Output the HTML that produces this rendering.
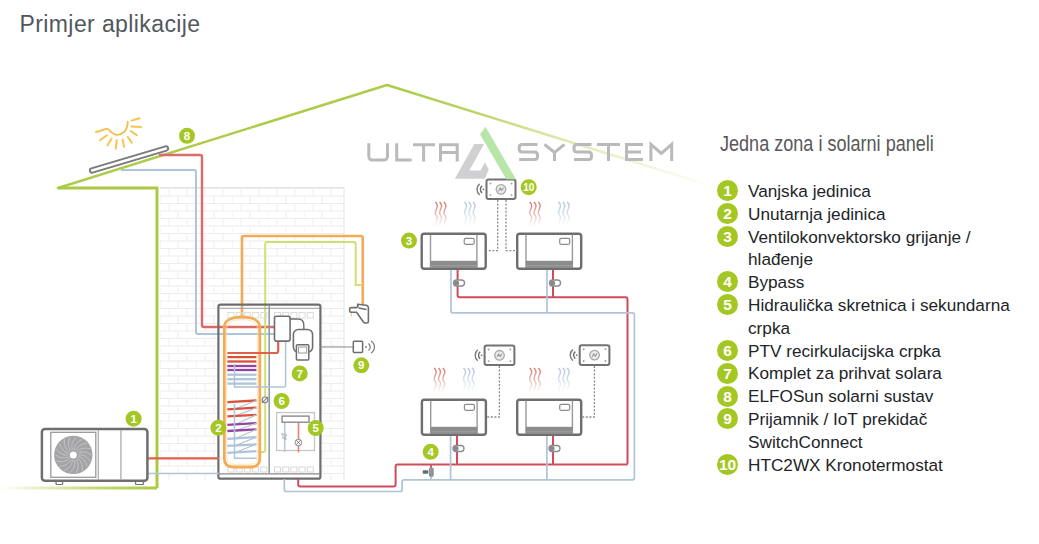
<!DOCTYPE html>
<html><head><meta charset="utf-8">
<style>
html,body{margin:0;padding:0;background:#fff;}
body{width:1039px;height:544px;position:relative;overflow:hidden;font-family:"Liberation Sans",sans-serif;}
.title{position:absolute;left:19.5px;top:11px;font-size:23px;letter-spacing:0.4px;color:#52575e;white-space:nowrap;}
.lh{position:absolute;left:720px;top:132px;font-size:21.5px;color:#58585a;white-space:nowrap;transform:scaleX(0.84);transform-origin:0 0;}
.li{position:absolute;left:748px;font-size:17.2px;color:#222428;white-space:nowrap;}
.b{position:absolute;left:717px;width:21px;height:21px;border-radius:50%;background:#a4c724;color:#fff;font-weight:bold;font-size:15.5px;line-height:22px;text-align:center;}
svg{position:absolute;left:0;top:0;}
</style></head><body>
<div class="title">Primjer aplikacije</div>
<svg width="1039" height="544" viewBox="0 0 1039 544">
<defs>
 <pattern id="brick" x="160" y="188" width="36" height="15" patternUnits="userSpaceOnUse">
  <path d="M0 0.5H36M0 8H36M9 0V8M27 0V8M0 8V15M18 8V15" stroke="#ededed" stroke-width="1" fill="none"/>
 </pattern>
 <linearGradient id="roofR" gradientUnits="userSpaceOnUse" x1="387" y1="85" x2="715" y2="187">
  <stop offset="0" stop-color="#a8ca3c" stop-opacity="0.95"/>
  <stop offset="0.25" stop-color="#acca48" stop-opacity="0.85"/>
  <stop offset="0.47" stop-color="#bcd460" stop-opacity="0.6"/>
  <stop offset="0.77" stop-color="#c8dc80" stop-opacity="0.3"/>
  <stop offset="1" stop-color="#c8dc80" stop-opacity="0"/>
 </linearGradient>
 <linearGradient id="eaveB" gradientUnits="userSpaceOnUse" x1="0" y1="488" x2="157" y2="488">
  <stop offset="0" stop-color="#acc944" stop-opacity="0"/>
  <stop offset="0.6" stop-color="#acc944" stop-opacity="0.7"/>
  <stop offset="1" stop-color="#acc944" stop-opacity="1"/>
 </linearGradient>
</defs>
<rect x="160" y="188" width="184" height="292" fill="url(#brick)"/>
<path d="M160 187.5H344V480" stroke="#e2e2e2" stroke-width="1" fill="none"/>
<path d="M58 188L387 85" stroke="#afcb4a" stroke-width="2.5" fill="none" stroke-linecap="round"/>
<path d="M387 85L715 187" stroke="url(#roofR)" stroke-width="2.4" fill="none"/>
<path d="M58 188H157V488" stroke="#acc944" stroke-width="3" fill="none"/>
<path d="M0 488H157" stroke="url(#eaveB)" stroke-width="3" fill="none"/>
<path d="M96 132L107 128.8" stroke="#f2c650" stroke-width="2" stroke-linecap="round"/>
<path d="M100 140.3L107 135.3" stroke="#f2c650" stroke-width="2" stroke-linecap="round"/>
<path d="M107.5 145.4L111.6 138.5" stroke="#f2c650" stroke-width="2" stroke-linecap="round"/>
<path d="M115.7 148.6L116.7 140.3" stroke="#f2c650" stroke-width="2" stroke-linecap="round"/>
<path d="M124 146.8L122.6 139.4" stroke="#f2c650" stroke-width="2" stroke-linecap="round"/>
<path d="M131.8 142.6L127.7 136.7" stroke="#f2c650" stroke-width="2" stroke-linecap="round"/>
<path d="M136.9 135.3L130.9 131.1" stroke="#f2c650" stroke-width="2" stroke-linecap="round"/>
<path d="M141 127L131.4 126.5" stroke="#f2c650" stroke-width="2" stroke-linecap="round"/>
<path d="M139.6 118.3L131.4 120.6" stroke="#f2c650" stroke-width="2" stroke-linecap="round"/>
<path d="M107.9 128.8Q116 139 124 132Q128 128 127.7 121" stroke="#f0c048" stroke-width="1.8" fill="none"/>
<rect x="218.4" y="304.7" width="102" height="174" fill="#fff"/>
<path d="M159 155H200Q202 155 202 157V325Q202 327 204 327H275" stroke="#dc6a66" stroke-width="2.4" fill="none"/>
<path d="M121 170H194Q196 170 196 172V332Q196 334 198 334H275" stroke="#aec4d8" stroke-width="2" fill="none"/>
<path d="M92 170.5L166 148.5" stroke="#7a7a7c" stroke-width="6.2" stroke-linecap="round"/>
<path d="M92 170.5L166 148.5" stroke="#fff" stroke-width="2.4" stroke-linecap="round"/>
<path d="M242 318V238Q242 236 244 236H360.5Q362.7 236 362.7 238V305" stroke="#f2ac58" stroke-width="2.6" fill="none"/>
<path d="M258 452H263.2Q265.2 452 265.2 450V244Q265.2 242 267 242H353.7Q355.7 242 355.7 244V285H361" stroke="#cfe070" stroke-width="2" fill="none"/>
<rect x="218.4" y="304.7" width="102" height="174" rx="2" fill="none" stroke="#6e6e70" stroke-width="2.2"/>
<path d="M219.5 308.3H319.3" stroke="#9a9a9c" stroke-width="1"/>
<path d="M269.2 306V473" stroke="#8e9aa4" stroke-width="1.6"/>
<path d="M219 473.8H320" stroke="#8a8a8c" stroke-width="1.2"/>
<rect x="228.0" y="312.5" width="6" height="5.5" fill="none" stroke="#dcdcdc" stroke-width="1"/>
<rect x="236.2" y="312.5" width="6" height="5.5" fill="none" stroke="#dcdcdc" stroke-width="1"/>
<rect x="244.4" y="312.5" width="6" height="5.5" fill="none" stroke="#dcdcdc" stroke-width="1"/>
<rect x="252.6" y="312.5" width="6" height="5.5" fill="none" stroke="#dcdcdc" stroke-width="1"/>
<rect x="260.8" y="312.5" width="6" height="5.5" fill="none" stroke="#dcdcdc" stroke-width="1"/>
<rect x="274.5" y="312.5" width="6" height="5.5" fill="none" stroke="#dcdcdc" stroke-width="1"/>
<rect x="282.7" y="312.5" width="6" height="5.5" fill="none" stroke="#dcdcdc" stroke-width="1"/>
<rect x="290.9" y="312.5" width="6" height="5.5" fill="none" stroke="#dcdcdc" stroke-width="1"/>
<rect x="299.1" y="312.5" width="6" height="5.5" fill="none" stroke="#dcdcdc" stroke-width="1"/>
<rect x="307.3" y="312.5" width="6" height="5.5" fill="none" stroke="#dcdcdc" stroke-width="1"/>
<rect x="228.0" y="467" width="6" height="5" fill="none" stroke="#d8d8d8" stroke-width="1"/>
<rect x="236.2" y="467" width="6" height="5" fill="none" stroke="#d8d8d8" stroke-width="1"/>
<rect x="244.4" y="467" width="6" height="5" fill="none" stroke="#d8d8d8" stroke-width="1"/>
<rect x="252.6" y="467" width="6" height="5" fill="none" stroke="#d8d8d8" stroke-width="1"/>
<rect x="260.8" y="467" width="6" height="5" fill="none" stroke="#d8d8d8" stroke-width="1"/>
<rect x="274.5" y="467" width="6" height="5" fill="none" stroke="#d8d8d8" stroke-width="1"/>
<rect x="282.7" y="467" width="6" height="5" fill="none" stroke="#d8d8d8" stroke-width="1"/>
<rect x="290.9" y="467" width="6" height="5" fill="none" stroke="#d8d8d8" stroke-width="1"/>
<rect x="299.1" y="467" width="6" height="5" fill="none" stroke="#d8d8d8" stroke-width="1"/>
<rect x="307.3" y="467" width="6" height="5" fill="none" stroke="#d8d8d8" stroke-width="1"/>
<path d="M224.3 327C224.3 320 232 317 242 317C252 317 259.8 320 259.8 327V458Q259.8 467 250.8 467H233.3Q224.3 467 224.3 458Z" fill="none" stroke="#f2ac58" stroke-width="2.8"/>
<path d="M226.8 328C226.8 322 234 319.6 242 319.6C250 319.6 257.3 322 257.3 328V457Q257.3 464.3 250 464.3H234Q226.8 464.3 226.8 457Z" fill="none" stroke="#f9dcae" stroke-width="0.8"/>
<path d="M227.4 357.1H256.4" stroke="#d9523a" stroke-width="2.3"/>
<path d="M227.4 361.5H256.4" stroke="#d9523a" stroke-width="2.3"/>
<path d="M227.4 366H256.4" stroke="#9444a0" stroke-width="2.3"/>
<path d="M227.4 370H256.4" stroke="#9444a0" stroke-width="2.3"/>
<path d="M227.4 374.7H256.4" stroke="#aec4d8" stroke-width="2.3"/>
<path d="M227.4 379.2H256.4" stroke="#aec4d8" stroke-width="2.3"/>
<path d="M227.4 383.6H256.4" stroke="#aec4d8" stroke-width="2.3"/>
<path d="M234.5 364V387H256.4" stroke="#aec4d8" stroke-width="1.5" fill="none"/>
<path d="M227.4 402.1L256.4 400.5" stroke="#d9523a" stroke-width="2.3"/>
<path d="M256.4 400.5L234.5 409.3" stroke="#b8c6d2" stroke-width="1.2"/>
<path d="M227.4 409.3L256.4 407.7" stroke="#d9523a" stroke-width="2.3"/>
<path d="M256.4 407.7L234.5 416.40000000000003" stroke="#b8c6d2" stroke-width="1.2"/>
<path d="M227.4 416.40000000000003L256.4 414.8" stroke="#d9523a" stroke-width="2.3"/>
<path d="M256.4 414.8L234.5 424.8" stroke="#b8c6d2" stroke-width="1.2"/>
<path d="M227.4 424.8L256.4 423.2" stroke="#9444a0" stroke-width="2.3"/>
<path d="M256.4 423.2L234.5 431.0" stroke="#b8c6d2" stroke-width="1.2"/>
<path d="M227.4 431.0L256.4 429.4" stroke="#9444a0" stroke-width="2.3"/>
<path d="M256.4 429.4L234.5 438.8" stroke="#b8c6d2" stroke-width="1.2"/>
<path d="M227.4 438.8L256.4 437.2" stroke="#aec4d8" stroke-width="2.3"/>
<path d="M256.4 437.2L234.5 445.90000000000003" stroke="#b8c6d2" stroke-width="1.2"/>
<path d="M227.4 445.90000000000003L256.4 444.3" stroke="#aec4d8" stroke-width="2.3"/>
<path d="M256.4 444.3L234.5 452.8" stroke="#b8c6d2" stroke-width="1.2"/>
<path d="M227.4 452.8L256.4 451.2" stroke="#aec4d8" stroke-width="2.3"/>
<path d="M234.5 404V458.3H256.4" stroke="#aec4d8" stroke-width="1.5" fill="none"/>
<path d="M278.2 341V351Q278.2 353 276.2 353H227.4" stroke="#e0604a" stroke-width="2.2" fill="none"/>
<path d="M285.6 341V385Q285.6 387 283.6 387H256" stroke="#aec4d8" stroke-width="1.5" fill="none"/>
<rect x="274.5" y="316.3" width="15.6" height="24.8" rx="2" fill="#fff" stroke="#6e6e70" stroke-width="1.6"/>
<path d="M290 319H298Q303.8 319 303.8 325V330" stroke="#6e6e70" stroke-width="1.4" fill="none"/>
<rect x="293.4" y="329.5" width="19.2" height="22.7" rx="5" fill="#fff" stroke="#6e6e70" stroke-width="1.6"/>
<rect x="296.4" y="344.8" width="12.4" height="15.2" rx="1" fill="#fff" stroke="#6e6e70" stroke-width="1.5"/>
<rect x="298.5" y="347" width="8.2" height="6" fill="#fff" stroke="#999" stroke-width="1"/>
<circle cx="265" cy="399.8" r="2.8" fill="#fff" stroke="#808082" stroke-width="1.2"/>
<path d="M262 402.8L268 396.8" stroke="#808082" stroke-width="1.1"/>
<rect x="276.6" y="412.6" width="37.9" height="37.9" fill="none" stroke="#c6c6c8" stroke-width="1.3"/>
<path d="M284.7 422V452" stroke="#b8c8d8" stroke-width="1.6"/>
<path d="M298.5 422V452.5" stroke="#e0887a" stroke-width="1.7"/>
<rect x="282.1" y="416.1" width="26.9" height="6.1" fill="#fff" stroke="#8a8a8c" stroke-width="1.4"/>
<circle cx="298.4" cy="442.5" r="3.2" fill="#fff" stroke="#a0a4a8" stroke-width="1.2"/>
<path d="M296.2 444.7L300.6 440.3M296.2 440.3L300.6 444.7" stroke="#777" stroke-width="0.9"/>
<path d="M281 434.5L283 433.5V439M284.5 435Q286 433 286.5 435L284.5 439H287" stroke="#9a9a9c" stroke-width="0.8" fill="none"/>
<path d="M298.2 479V484.6Q298.2 486.6 300.2 486.6H393.6Q395.6 486.6 395.6 484.6V466.6Q395.6 464.6 397.6 464.6H625.5Q627.5 464.8 627.5 462.8V299.2Q627.5 297.2 625.5 297.2H459.6Q457.6 297.2 457.6 295.2V268" stroke="#cf4c5c" stroke-width="2" fill="none"/>
<path d="M553 297.2V268" stroke="#cf4c5c" stroke-width="2"/>
<path d="M457 464.8V435M553 464.8V435" stroke="#cf4c5c" stroke-width="2"/>
<path d="M284.3 479V489.5Q284.3 491.5 286.3 491.5H400.1Q402.1 491.5 402.1 489.5V481.8Q402.1 479.8 404.1 479.8H632.4Q634.4 479.8 634.4 477.8V314.8Q634.4 312.8 632.4 312.8H453Q451 312.8 451 310.8V268" stroke="#aec4d8" stroke-width="1.7" fill="none"/>
<path d="M547 312.8V268M450.6 479.8V435M546.9 479.8V435" stroke="#aec4d8" stroke-width="1.7"/>
<path d="M147 458.3H219" stroke="#e0604a" stroke-width="2.2"/>
<path d="M147 473.5H219" stroke="#aec4d8" stroke-width="1.7"/>
<path d="M320.5 347H353" stroke="#8a8a8c" stroke-width="1.2"/>
<rect x="353.3" y="341.3" width="9.3" height="11.2" rx="1" fill="#fff" stroke="#6e6e70" stroke-width="1.5"/>
<circle cx="366" cy="347" r="0.9" fill="#777"/>
<path d="M368.5 343.5A4.5 4.5 0 0 1 368.5 350.5M371 341A7 7 0 0 1 371 353" stroke="#777" stroke-width="1.2" fill="none"/>
<path d="M349.6 309.2Q349.6 307.6 351.2 307.6H356.5L358 306.5L357.6 304.2L366.2 305.2Q368.4 305.6 368.4 308V321.4Q368.4 323 366.8 323H365Q364 323 363.4 322L356.6 312.3H351.2Q349.6 312.3 349.6 310.7Z" fill="#fff" stroke="#6e6e70" stroke-width="1.6" stroke-linejoin="round"/>
<path d="M358.5 308L366.5 309.5" stroke="#6e6e70" stroke-width="1.3"/>
<path d="M351.3 313V316.5" stroke="#f4c890" stroke-width="1.2"/>
<rect x="41.9" y="428.9" width="105.5" height="51.9" rx="3" fill="#fff" stroke="#6e6e70" stroke-width="2.5"/>
<rect x="50.8" y="432.3" width="45" height="45" fill="none" stroke="#9a9a9c" stroke-width="1.3"/>
<circle cx="73.3" cy="454.9" r="19.2" fill="#a4a4a6"/>
<path d="M78.3 454.9Q85.2 453.7 90.2 461.1" stroke="#c6c6c8" stroke-width="0.9" fill="none"/>
<path d="M78.0 456.6Q84.9 457.9 87.1 466.5" stroke="#c6c6c8" stroke-width="0.9" fill="none"/>
<path d="M77.1 458.1Q83.2 461.7 82.3 470.5" stroke="#c6c6c8" stroke-width="0.9" fill="none"/>
<path d="M75.8 459.2Q80.3 464.6 76.4 472.6" stroke="#c6c6c8" stroke-width="0.9" fill="none"/>
<path d="M74.2 459.8Q76.6 466.5 70.2 472.6" stroke="#c6c6c8" stroke-width="0.9" fill="none"/>
<path d="M72.4 459.8Q72.4 466.9 64.3 470.5" stroke="#c6c6c8" stroke-width="0.9" fill="none"/>
<path d="M70.8 459.2Q68.4 465.8 59.5 466.5" stroke="#c6c6c8" stroke-width="0.9" fill="none"/>
<path d="M69.5 458.1Q64.9 463.5 56.4 461.0" stroke="#c6c6c8" stroke-width="0.9" fill="none"/>
<path d="M68.6 456.6Q62.5 460.1 55.3 454.9" stroke="#c6c6c8" stroke-width="0.9" fill="none"/>
<path d="M68.3 454.9Q61.4 456.1 56.4 448.7" stroke="#c6c6c8" stroke-width="0.9" fill="none"/>
<path d="M68.6 453.2Q61.7 451.9 59.5 443.3" stroke="#c6c6c8" stroke-width="0.9" fill="none"/>
<path d="M69.5 451.7Q63.4 448.1 64.3 439.3" stroke="#c6c6c8" stroke-width="0.9" fill="none"/>
<path d="M70.8 450.6Q66.3 445.2 70.2 437.2" stroke="#c6c6c8" stroke-width="0.9" fill="none"/>
<path d="M72.4 450.0Q70.0 443.3 76.4 437.2" stroke="#c6c6c8" stroke-width="0.9" fill="none"/>
<path d="M74.2 450.0Q74.2 442.9 82.3 439.3" stroke="#c6c6c8" stroke-width="0.9" fill="none"/>
<path d="M75.8 450.6Q78.2 444.0 87.1 443.3" stroke="#c6c6c8" stroke-width="0.9" fill="none"/>
<path d="M77.1 451.7Q81.7 446.3 90.2 448.8" stroke="#c6c6c8" stroke-width="0.9" fill="none"/>
<path d="M78.0 453.2Q84.1 449.7 91.3 454.9" stroke="#c6c6c8" stroke-width="0.9" fill="none"/>
<circle cx="73.3" cy="454.9" r="3.5" fill="#fff"/>
<path d="M98.3 430V480M120.9 430V480" stroke="#a8a8aa" stroke-width="1.2"/>
<rect x="56" y="481.5" width="6.7" height="3" rx="1" fill="#fff" stroke="#6e6e70" stroke-width="1.2"/>
<rect x="135.5" y="481.5" width="8" height="3" rx="1" fill="#fff" stroke="#6e6e70" stroke-width="1.2"/>
<rect x="421.7" y="233.8" width="64" height="35" rx="2.5" fill="#fff" stroke="#6e6e70" stroke-width="2.4"/>
<path d="M430.5 234.8V267.8M476.9 234.8V267.8" stroke="#9a9a9c" stroke-width="1.4"/>
<rect x="430.3" y="260.8" width="47" height="7.3" fill="#8c8c8e"/>
<path d="M430.3 265.8H477.3" stroke="#a4a4a6" stroke-width="0.8"/>
<rect x="464.2" y="238.3" width="10" height="6" rx="1.5" fill="#fff" stroke="#8a8a8c" stroke-width="1.2"/>
<rect x="517.2" y="233.8" width="64" height="35" rx="2.5" fill="#fff" stroke="#6e6e70" stroke-width="2.4"/>
<path d="M526.0 234.8V267.8M572.4000000000001 234.8V267.8" stroke="#9a9a9c" stroke-width="1.4"/>
<rect x="525.8000000000001" y="260.8" width="47" height="7.3" fill="#8c8c8e"/>
<path d="M525.8000000000001 265.8H572.8000000000001" stroke="#a4a4a6" stroke-width="0.8"/>
<rect x="559.7" y="238.3" width="10" height="6" rx="1.5" fill="#fff" stroke="#8a8a8c" stroke-width="1.2"/>
<rect x="421.9" y="399.8" width="64" height="35" rx="2.5" fill="#fff" stroke="#6e6e70" stroke-width="2.4"/>
<path d="M430.7 400.8V433.8M477.09999999999997 400.8V433.8" stroke="#9a9a9c" stroke-width="1.4"/>
<rect x="430.5" y="426.8" width="47" height="7.3" fill="#8c8c8e"/>
<path d="M430.5 431.8H477.5" stroke="#a4a4a6" stroke-width="0.8"/>
<rect x="464.4" y="404.3" width="10" height="6" rx="1.5" fill="#fff" stroke="#8a8a8c" stroke-width="1.2"/>
<rect x="517.2" y="399.8" width="64" height="35" rx="2.5" fill="#fff" stroke="#6e6e70" stroke-width="2.4"/>
<path d="M526.0 400.8V433.8M572.4000000000001 400.8V433.8" stroke="#9a9a9c" stroke-width="1.4"/>
<rect x="525.8000000000001" y="426.8" width="47" height="7.3" fill="#8c8c8e"/>
<path d="M525.8000000000001 431.8H572.8000000000001" stroke="#a4a4a6" stroke-width="0.8"/>
<rect x="559.7" y="404.3" width="10" height="6" rx="1.5" fill="#fff" stroke="#8a8a8c" stroke-width="1.2"/>
<rect x="486.5" y="179.6" width="29" height="19.5" rx="2" fill="#fff" stroke="#727274" stroke-width="2"/>
<circle cx="501.0" cy="189.35" r="4.8" fill="#ececec" stroke="#a8a8aa" stroke-width="1.3"/>
<path d="M498.5 191.15L500.2 188.15L501.8 190.54999999999998L503.5 187.54999999999998" stroke="#9a9a9c" stroke-width="1.1" fill="none"/>
<circle cx="490.5" cy="183.6" r="0.9" fill="#9a9a9a"/>
<circle cx="511.5" cy="183.6" r="0.9" fill="#9a9a9a"/>
<circle cx="490.5" cy="195.1" r="0.9" fill="#9a9a9a"/>
<circle cx="511.5" cy="195.1" r="0.9" fill="#9a9a9a"/>
<circle cx="483.5" cy="189.35" r="0.9" fill="#777"/>
<path d="M482.1 185.85A4.5 4.5 0 0 0 482.1 192.85" stroke="#6a6a6c" stroke-width="1.4" fill="none"/>
<path d="M479.7 183.85A7 7 0 0 0 479.7 194.85" stroke="#7a7a7c" stroke-width="1.4" fill="none"/>
<rect x="484.6" y="345.5" width="29.8" height="19.6" rx="2" fill="#fff" stroke="#727274" stroke-width="2"/>
<circle cx="499.5" cy="355.3" r="4.8" fill="#ececec" stroke="#a8a8aa" stroke-width="1.3"/>
<path d="M497.0 357.1L498.7 354.1L500.3 356.5L502.0 353.5" stroke="#9a9a9c" stroke-width="1.1" fill="none"/>
<circle cx="488.6" cy="349.5" r="0.9" fill="#9a9a9a"/>
<circle cx="510.40000000000003" cy="349.5" r="0.9" fill="#9a9a9a"/>
<circle cx="488.6" cy="361.1" r="0.9" fill="#9a9a9a"/>
<circle cx="510.40000000000003" cy="361.1" r="0.9" fill="#9a9a9a"/>
<circle cx="481.6" cy="355.3" r="0.9" fill="#777"/>
<path d="M480.20000000000005 351.8A4.5 4.5 0 0 0 480.20000000000005 358.8" stroke="#6a6a6c" stroke-width="1.4" fill="none"/>
<path d="M477.8 349.8A7 7 0 0 0 477.8 360.8" stroke="#7a7a7c" stroke-width="1.4" fill="none"/>
<rect x="579.7" y="345.2" width="29.7" height="19.8" rx="2" fill="#fff" stroke="#727274" stroke-width="2"/>
<circle cx="594.5500000000001" cy="355.09999999999997" r="4.8" fill="#ececec" stroke="#a8a8aa" stroke-width="1.3"/>
<path d="M592.0500000000001 356.9L593.7500000000001 353.9L595.35 356.29999999999995L597.0500000000001 353.29999999999995" stroke="#9a9a9c" stroke-width="1.1" fill="none"/>
<circle cx="583.7" cy="349.2" r="0.9" fill="#9a9a9a"/>
<circle cx="605.4000000000001" cy="349.2" r="0.9" fill="#9a9a9a"/>
<circle cx="583.7" cy="361.0" r="0.9" fill="#9a9a9a"/>
<circle cx="605.4000000000001" cy="361.0" r="0.9" fill="#9a9a9a"/>
<circle cx="576.7" cy="355.09999999999997" r="0.9" fill="#777"/>
<path d="M575.3000000000001 351.59999999999997A4.5 4.5 0 0 0 575.3000000000001 358.59999999999997" stroke="#6a6a6c" stroke-width="1.4" fill="none"/>
<path d="M572.9000000000001 349.59999999999997A7 7 0 0 0 572.9000000000001 360.59999999999997" stroke="#7a7a7c" stroke-width="1.4" fill="none"/>
<path d="M497.7 200V250.7H486.5" stroke="#8a8a8c" stroke-width="1.3" stroke-dasharray="2 1.6" fill="none"/>
<path d="M506 200V250.7H517" stroke="#8a8a8c" stroke-width="1.3" stroke-dasharray="2 1.6" fill="none"/>
<path d="M499.4 366V417H486.5" stroke="#8a8a8c" stroke-width="1.3" stroke-dasharray="2 1.6" fill="none"/>
<path d="M594.4 366V417H581.5" stroke="#8a8a8c" stroke-width="1.3" stroke-dasharray="2 1.6" fill="none"/>
<rect x="453.5" y="280" width="11" height="6" rx="3" fill="#fff" stroke="#8a8a8c" stroke-width="1.3"/>
<circle cx="456.5" cy="283" r="2.6" fill="#8a8a8c"/>
<rect x="549.5" y="280" width="11" height="6" rx="3" fill="#fff" stroke="#8a8a8c" stroke-width="1.3"/>
<circle cx="552.5" cy="283" r="2.6" fill="#8a8a8c"/>
<rect x="453" y="445.5" width="11" height="6" rx="3" fill="#fff" stroke="#8a8a8c" stroke-width="1.3"/>
<circle cx="456" cy="448.5" r="2.6" fill="#8a8a8c"/>
<rect x="549" y="445.5" width="11" height="6" rx="3" fill="#fff" stroke="#8a8a8c" stroke-width="1.3"/>
<circle cx="552" cy="448.5" r="2.6" fill="#8a8a8c"/>
<path d="M431 465V469" stroke="#cf4c5c" stroke-width="1.8"/>
<rect x="428.8" y="467.5" width="5" height="9.5" rx="2" fill="#8e9496"/>
<rect x="422.7" y="470.2" width="5.5" height="3.6" rx="1" fill="#6a6a6c"/>
<path d="M431 476.5V479" stroke="#a8b8c4" stroke-width="1.5"/>
<linearGradient id="wg435202" gradientUnits="userSpaceOnUse" x1="0" y1="202" x2="0" y2="226"><stop offset="0" stop-color="#cf6658" stop-opacity="0.85"/><stop offset="0.6" stop-color="#cf6658" stop-opacity="0.35"/><stop offset="1" stop-color="#cf6658" stop-opacity="0.02"/></linearGradient>
<path d="M435.3 202q3 3 1.5 6t-1.5 6q3 3 1.5 6t-1.5 6" stroke="url(#wg435202)" stroke-width="1.5" fill="none"/>
<path d="M439.6 202q3 3 1.5 6t-1.5 6q3 3 1.5 6t-1.5 6" stroke="url(#wg435202)" stroke-width="1.5" fill="none"/>
<path d="M443.90000000000003 202q3 3 1.5 6t-1.5 6q3 3 1.5 6t-1.5 6" stroke="url(#wg435202)" stroke-width="1.5" fill="none"/>
<linearGradient id="wg464202" gradientUnits="userSpaceOnUse" x1="0" y1="202" x2="0" y2="226"><stop offset="0" stop-color="#a4bcdc" stop-opacity="0.85"/><stop offset="0.6" stop-color="#a4bcdc" stop-opacity="0.35"/><stop offset="1" stop-color="#a4bcdc" stop-opacity="0.02"/></linearGradient>
<path d="M464.5 202q3 3 1.5 6t-1.5 6q3 3 1.5 6t-1.5 6" stroke="url(#wg464202)" stroke-width="1.5" fill="none"/>
<path d="M468.8 202q3 3 1.5 6t-1.5 6q3 3 1.5 6t-1.5 6" stroke="url(#wg464202)" stroke-width="1.5" fill="none"/>
<path d="M473.1 202q3 3 1.5 6t-1.5 6q3 3 1.5 6t-1.5 6" stroke="url(#wg464202)" stroke-width="1.5" fill="none"/>
<linearGradient id="wg529202" gradientUnits="userSpaceOnUse" x1="0" y1="202" x2="0" y2="226"><stop offset="0" stop-color="#cf6658" stop-opacity="0.85"/><stop offset="0.6" stop-color="#cf6658" stop-opacity="0.35"/><stop offset="1" stop-color="#cf6658" stop-opacity="0.02"/></linearGradient>
<path d="M529.7 202q3 3 1.5 6t-1.5 6q3 3 1.5 6t-1.5 6" stroke="url(#wg529202)" stroke-width="1.5" fill="none"/>
<path d="M534.0 202q3 3 1.5 6t-1.5 6q3 3 1.5 6t-1.5 6" stroke="url(#wg529202)" stroke-width="1.5" fill="none"/>
<path d="M538.3000000000001 202q3 3 1.5 6t-1.5 6q3 3 1.5 6t-1.5 6" stroke="url(#wg529202)" stroke-width="1.5" fill="none"/>
<linearGradient id="wg558202" gradientUnits="userSpaceOnUse" x1="0" y1="202" x2="0" y2="226"><stop offset="0" stop-color="#a4bcdc" stop-opacity="0.85"/><stop offset="0.6" stop-color="#a4bcdc" stop-opacity="0.35"/><stop offset="1" stop-color="#a4bcdc" stop-opacity="0.02"/></linearGradient>
<path d="M558.5 202q3 3 1.5 6t-1.5 6q3 3 1.5 6t-1.5 6" stroke="url(#wg558202)" stroke-width="1.5" fill="none"/>
<path d="M562.8 202q3 3 1.5 6t-1.5 6q3 3 1.5 6t-1.5 6" stroke="url(#wg558202)" stroke-width="1.5" fill="none"/>
<path d="M567.1 202q3 3 1.5 6t-1.5 6q3 3 1.5 6t-1.5 6" stroke="url(#wg558202)" stroke-width="1.5" fill="none"/>
<linearGradient id="wg434368" gradientUnits="userSpaceOnUse" x1="0" y1="368" x2="0" y2="392"><stop offset="0" stop-color="#cf6658" stop-opacity="0.85"/><stop offset="0.6" stop-color="#cf6658" stop-opacity="0.35"/><stop offset="1" stop-color="#cf6658" stop-opacity="0.02"/></linearGradient>
<path d="M434.2 368q3 3 1.5 6t-1.5 6q3 3 1.5 6t-1.5 6" stroke="url(#wg434368)" stroke-width="1.5" fill="none"/>
<path d="M438.5 368q3 3 1.5 6t-1.5 6q3 3 1.5 6t-1.5 6" stroke="url(#wg434368)" stroke-width="1.5" fill="none"/>
<path d="M442.8 368q3 3 1.5 6t-1.5 6q3 3 1.5 6t-1.5 6" stroke="url(#wg434368)" stroke-width="1.5" fill="none"/>
<linearGradient id="wg463368" gradientUnits="userSpaceOnUse" x1="0" y1="368" x2="0" y2="392"><stop offset="0" stop-color="#a4bcdc" stop-opacity="0.85"/><stop offset="0.6" stop-color="#a4bcdc" stop-opacity="0.35"/><stop offset="1" stop-color="#a4bcdc" stop-opacity="0.02"/></linearGradient>
<path d="M463.5 368q3 3 1.5 6t-1.5 6q3 3 1.5 6t-1.5 6" stroke="url(#wg463368)" stroke-width="1.5" fill="none"/>
<path d="M467.8 368q3 3 1.5 6t-1.5 6q3 3 1.5 6t-1.5 6" stroke="url(#wg463368)" stroke-width="1.5" fill="none"/>
<path d="M472.1 368q3 3 1.5 6t-1.5 6q3 3 1.5 6t-1.5 6" stroke="url(#wg463368)" stroke-width="1.5" fill="none"/>
<linearGradient id="wg529368" gradientUnits="userSpaceOnUse" x1="0" y1="368" x2="0" y2="392"><stop offset="0" stop-color="#cf6658" stop-opacity="0.85"/><stop offset="0.6" stop-color="#cf6658" stop-opacity="0.35"/><stop offset="1" stop-color="#cf6658" stop-opacity="0.02"/></linearGradient>
<path d="M529.7 368q3 3 1.5 6t-1.5 6q3 3 1.5 6t-1.5 6" stroke="url(#wg529368)" stroke-width="1.5" fill="none"/>
<path d="M534.0 368q3 3 1.5 6t-1.5 6q3 3 1.5 6t-1.5 6" stroke="url(#wg529368)" stroke-width="1.5" fill="none"/>
<path d="M538.3000000000001 368q3 3 1.5 6t-1.5 6q3 3 1.5 6t-1.5 6" stroke="url(#wg529368)" stroke-width="1.5" fill="none"/>
<linearGradient id="wg558368" gradientUnits="userSpaceOnUse" x1="0" y1="368" x2="0" y2="392"><stop offset="0" stop-color="#a4bcdc" stop-opacity="0.85"/><stop offset="0.6" stop-color="#a4bcdc" stop-opacity="0.35"/><stop offset="1" stop-color="#a4bcdc" stop-opacity="0.02"/></linearGradient>
<path d="M558.5 368q3 3 1.5 6t-1.5 6q3 3 1.5 6t-1.5 6" stroke="url(#wg558368)" stroke-width="1.5" fill="none"/>
<path d="M562.8 368q3 3 1.5 6t-1.5 6q3 3 1.5 6t-1.5 6" stroke="url(#wg558368)" stroke-width="1.5" fill="none"/>
<path d="M567.1 368q3 3 1.5 6t-1.5 6q3 3 1.5 6t-1.5 6" stroke="url(#wg558368)" stroke-width="1.5" fill="none"/>
<path d="M368.8 143.3V156Q368.8 160.1 372.8 160.1H383.5Q387.5 160.1 387.5 156V143.3" stroke="#bababc" stroke-width="3" fill="none" stroke-linejoin="miter"/>
<path d="M396.7 143.3V160.1H411.6" stroke="#bababc" stroke-width="3" fill="none" stroke-linejoin="miter"/>
<path d="M413 144.8H435.1M423.6 144.8V161.6" stroke="#bababc" stroke-width="3" fill="none" stroke-linejoin="miter"/>
<path d="M440.5 161.6V144.8H457.2V161.6M440.5 152.4H457.2" stroke="#bababc" stroke-width="3" fill="none" stroke-linejoin="miter"/>
<path d="M537.5 144.4H522.2Q519.2 144.4 519.2 147.4V148.9Q519.2 151.9 522.2 151.9H534.5Q537.5 151.9 537.5 154.9V156.4Q537.5 159.4 534.5 159.4H519.2" stroke="#bababc" stroke-width="3" fill="none" stroke-linejoin="miter"/>
<path d="M544.5 144.4L554.5 152.5L564.5 144.4M554.5 152.5V160.9" stroke="#bababc" stroke-width="3" fill="none" stroke-linejoin="miter"/>
<path d="M591.5 144.4H577Q574 144.4 574 147.4V148.9Q574 151.9 577 151.9H588.5Q591.5 151.9 591.5 154.9V156.4Q591.5 159.4 588.5 159.4H574" stroke="#bababc" stroke-width="3" fill="none" stroke-linejoin="miter"/>
<path d="M597 144.4H620M608.5 144.4V160.9" stroke="#bababc" stroke-width="3" fill="none" stroke-linejoin="miter"/>
<path d="M643 144.4H626.5V159.4H643M626.5 151.9H641" stroke="#bababc" stroke-width="3" fill="none" stroke-linejoin="miter"/>
<path d="M650.9 160.9V144.4L661.3 153.5L671.7 144.4V160.9" stroke="#bababc" stroke-width="3" fill="none" stroke-linejoin="miter"/>
<polygon points="480,134.3 485.5,126.8 516,179.3 506.3,179.3" fill="#b8e6a8"/>
<polygon points="454.9,178.8 474.3,144.1 484,144.1 469.4,170.4 480.7,170.4 484.8,162.3 488.8,169.6 484.8,178.8" fill="#d0d0d2"/>
<circle cx="187" cy="135.8" r="8" fill="#a4c724"/>
<text x="187" y="139.9" text-anchor="middle" font-family="Liberation Sans" font-weight="bold" font-size="11.5" fill="#fff">8</text>
<circle cx="133.6" cy="418.7" r="8" fill="#a4c724"/>
<text x="133.6" y="422.8" text-anchor="middle" font-family="Liberation Sans" font-weight="bold" font-size="11.5" fill="#fff">1</text>
<circle cx="218.4" cy="427.8" r="8" fill="#a4c724"/>
<text x="218.4" y="431.9" text-anchor="middle" font-family="Liberation Sans" font-weight="bold" font-size="11.5" fill="#fff">2</text>
<circle cx="409" cy="240.6" r="8" fill="#a4c724"/>
<text x="409" y="244.7" text-anchor="middle" font-family="Liberation Sans" font-weight="bold" font-size="11.5" fill="#fff">3</text>
<circle cx="430.7" cy="451.8" r="8" fill="#a4c724"/>
<text x="430.7" y="455.9" text-anchor="middle" font-family="Liberation Sans" font-weight="bold" font-size="11.5" fill="#fff">4</text>
<circle cx="315.7" cy="428" r="8" fill="#a4c724"/>
<text x="315.7" y="432.1" text-anchor="middle" font-family="Liberation Sans" font-weight="bold" font-size="11.5" fill="#fff">5</text>
<circle cx="281.6" cy="401" r="8" fill="#a4c724"/>
<text x="281.6" y="405.1" text-anchor="middle" font-family="Liberation Sans" font-weight="bold" font-size="11.5" fill="#fff">6</text>
<circle cx="299.7" cy="373.4" r="8" fill="#a4c724"/>
<text x="299.7" y="377.5" text-anchor="middle" font-family="Liberation Sans" font-weight="bold" font-size="11.5" fill="#fff">7</text>
<circle cx="361.3" cy="365.3" r="8" fill="#a4c724"/>
<text x="361.3" y="369.4" text-anchor="middle" font-family="Liberation Sans" font-weight="bold" font-size="11.5" fill="#fff">9</text>
<circle cx="528.7" cy="187.2" r="8" fill="#a4c724"/>
<text x="528.7" y="190.8" text-anchor="middle" font-family="Liberation Sans" font-weight="bold" font-size="10" fill="#fff">10</text>
</svg>
<div class="lh">Jedna zona i solarni paneli</div>
<div class="b" style="top:180.0px">1</div>
<div class="li" style="top:180.8px">Vanjska jedinica</div>
<div class="b" style="top:202.8px">2</div>
<div class="li" style="top:203.6px">Unutarnja jedinica</div>
<div class="b" style="top:225.7px">3</div>
<div class="li" style="top:226.5px">Ventilokonvektorsko grijanje /</div>
<div class="li" style="top:249.3px">hlađenje</div>
<div class="b" style="top:271.3px">4</div>
<div class="li" style="top:272.1px">Bypass</div>
<div class="b" style="top:294.1px">5</div>
<div class="li" style="top:294.9px">Hidraulička skretnica i sekundarna</div>
<div class="li" style="top:317.8px">crpka</div>
<div class="b" style="top:339.8px">6</div>
<div class="li" style="top:340.6px">PTV recirkulacijska crpka</div>
<div class="b" style="top:362.6px">7</div>
<div class="li" style="top:363.4px">Komplet za prihvat solara</div>
<div class="b" style="top:385.5px">8</div>
<div class="li" style="top:386.3px">ELFOSun solarni sustav</div>
<div class="b" style="top:408.3px">9</div>
<div class="li" style="top:409.1px">Prijamnik / IoT prekidač</div>
<div class="li" style="top:431.9px">SwitchConnect</div>
<div class="b" style="top:454.0px">10</div>
<div class="li" style="top:454.8px">HTC2WX Kronotermostat</div>
</body></html>
